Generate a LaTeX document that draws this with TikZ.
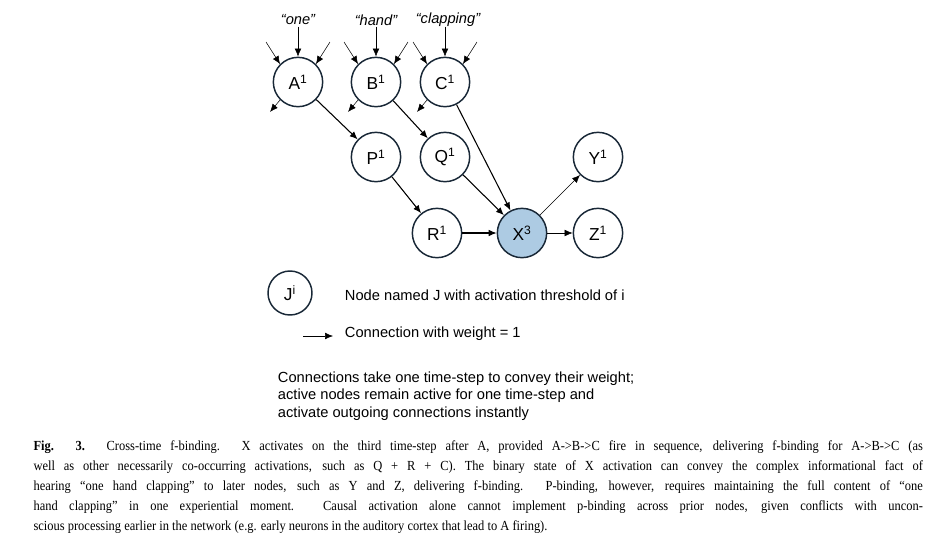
\documentclass[tikz,border=0pt]{standalone}
\usepackage{fontspec}
\setmainfont{Liberation Serif}
\newfontfamily\diagfont{Liberation Sans}
\newfontfamily\capfont{Liberation Serif}[FakeStretch=0.9]
\usetikzlibrary{arrows.meta}
\definecolor{xblue}{RGB}{173,203,227}
\definecolor{nodeedge}{RGB}{25,40,55}
\begin{document}
\begin{tikzpicture}[x=0.75pt,y=-0.75pt,>={Latex[length=6pt,width=5pt]},thick,
  unit node/.style={circle,draw=nodeedge,line width=1.1pt,minimum size=37pt,inner sep=0pt,font=\diagfont\fontsize{13}{14}\selectfont},
  word/.style={font=\diagfont\itshape\fontsize{11}{12}\selectfont},
  legend/.style={font=\diagfont\fontsize{11}{13}\selectfont,anchor=west}]
\useasboundingbox (0,0) rectangle (940,537);

\node[unit node] (A) at (298,82) {A\textsuperscript{1}};
\node[unit node] (B) at (376,82) {B\textsuperscript{1}};
\node[unit node] (C) at (445,82) {C\textsuperscript{1}};
\node[unit node] (P) at (376,157) {P\textsuperscript{1}};
\node[unit node] (Q) at (445,157) {Q\textsuperscript{1}};
\node[unit node] (Y) at (598,157) {Y\textsuperscript{1}};
\node[unit node] (R) at (437,233) {R\textsuperscript{1}};
\node[unit node,fill=xblue] (X) at (522,233) {X\textsuperscript{3}};
\node[unit node] (Z) at (598,233) {Z\textsuperscript{1}};

\node[word] (wA) at (298,20) {“one”};
\node[word] (wB) at (376,20) {“hand”};
\node[word] (wC) at (448,20) {“clapping”};

% inputs and stray outputs
\foreach \n in {A,B,C}{
  \coordinate (\n top) at ([shift={(0,-30)}]\n.north);
  \coordinate (\n in1) at ([shift={(-14,-22)}]\n.north west);
  \coordinate (\n in2) at ([shift={(14,-22)}]\n.north east);
  \coordinate (\n out) at ([shift={(-10,12)}]\n.south west);
  \draw[->,thin] (\n top) -- (\n.north);
  \draw[->,thin] (\n in1) -- (\n.north west);
  \draw[->,thin] (\n in2) -- (\n.north east);
  \draw[->,thin] (\n.south west) -- (\n out);
}

\draw[->] (A) -- (P);
\draw[->] (B) -- (Q);
\draw[->] (C) -- (X);
\draw[->] (P) -- (R);
\draw[->] (Q) -- (X);
\draw[->] (R) -- (X);
\draw[->,thin] (X) -- (Y);
\draw[->,thin] (X) -- (Z);

% legend
\node[unit node,minimum size=33pt] (J) at (290,293) {J\textsuperscript{i}};
\node[legend] (Jtext) at (340,295) {Node named J with activation threshold of i};
\coordinate (wstart) at (303,336);
\node[legend] (wtext) at (340,334) {Connection with weight = 1};
\draw[->,thin] (wstart) -- ++(30,0);
\node[legend,align=left,anchor=north west] (note) at (273,367)
  {Connections take one time-step to convey their weight;\\
   active nodes remain active for one time-step and\\
   activate outgoing connections instantly};

% caption
\node[anchor=north west,text width=667pt,align=justify,inner sep=0pt,font=\capfont\fontsize{10.4}{15}\selectfont] (caption) at (33,440)
  {\textbf{Fig. 3.} Cross-time f-binding. X activates on the third time-step after A, provided A->B->C fire in sequence, delivering f-binding for A->B->C (as\linebreak
  well as other necessarily co-occurring activations, such as Q + R + C). The binary state of X activation can convey the complex informational fact of\linebreak
  hearing “one hand clapping” to later nodes, such as Y and Z, delivering f-binding. P-binding, however, requires maintaining the full content of “one\linebreak
  hand clapping” in one experiential moment. Causal activation alone cannot implement p-binding across prior nodes, given conflicts with uncon-\linebreak
  scious processing earlier in the network (e.g. early neurons in the auditory cortex that lead to A firing).};
\end{tikzpicture}
\end{document}
